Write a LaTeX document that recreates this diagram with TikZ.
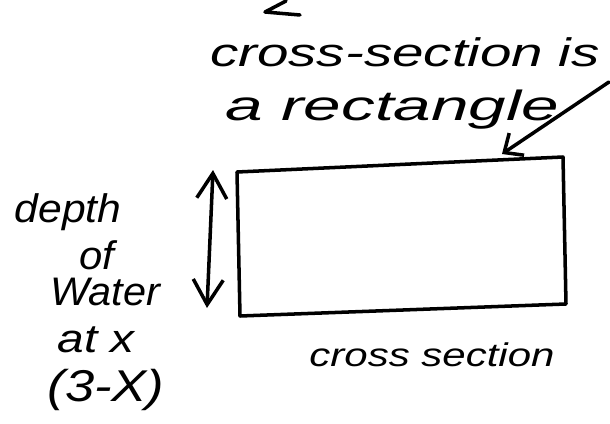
\documentclass[tikz,border=0pt]{standalone}
\usepackage{fontspec}
\setmainfont{Liberation Sans}
\usepackage{tikz}
\usetikzlibrary{arrows.meta}
\newcommand{\hand}[2]{\fontsize{#1}{#1}\selectfont\itshape\addfontfeature{FakeStretch=#2}}

\begin{document}
\begin{tikzpicture}[
  x=0.03cm, y=-0.03cm,
  ink/.style={draw=black, line width=3pt, line cap=round, line join=round},
  note/.style={text=black, inner sep=0pt}
]
\useasboundingbox (0,0) rectangle (610,424);
% stray arrow stub at the top edge
\draw[ink] (286,1) -- (265,12) -- (300,15);
% heading and its pointer onto the rectangle
\node[note, font=\hand{34}{1.42}] (headA) at (405,52) {cross-section is};
\node[note, font=\hand{36}{1.6}] (headB) at (392,110) {a rectangle};
\coordinate (ptail) at (609,82);
\coordinate (ptip) at (502,154);
\draw[ink, -{Straight Barb[length=0.45cm, width=0.8cm, line width=3pt]}] (ptail) -- (ptip);
% the cross-section itself
\coordinate (tl) at (237,172);
\coordinate (tr) at (563,157);
\coordinate (br) at (566,304);
\coordinate (bl) at (240,316);
\draw[ink] (tl) -- (tr) -- (br) -- (bl) -- cycle;
\node[note, font=\hand{28}{1.28}] (caption) at (432,355) {cross section};
% depth arrow and its label
\coordinate (dtop) at (213,170);
\coordinate (dbot) at (207,308);
\draw[ink, {Straight Barb[length=0.75cm, width=0.9cm, line width=3pt]}-{Straight Barb[length=0.75cm, width=0.9cm, line width=3pt]}] (dtop) -- (dbot);
\node[note, font=\hand{34}{1.07}] (depth) at (68,212) {depth};
\node[note, font=\hand{34}{1.05}] (of) at (97,255) {of};
\node[note, font=\hand{34}{1.04}] (water) at (105,292) {Water};
\node[note, font=\hand{34}{1.2}] (atx) at (96,340) {at x};
\node[note, font=\hand{38}{1.18}] (depthx) at (106,390) {(3-X)};
\end{tikzpicture}
\end{document}
